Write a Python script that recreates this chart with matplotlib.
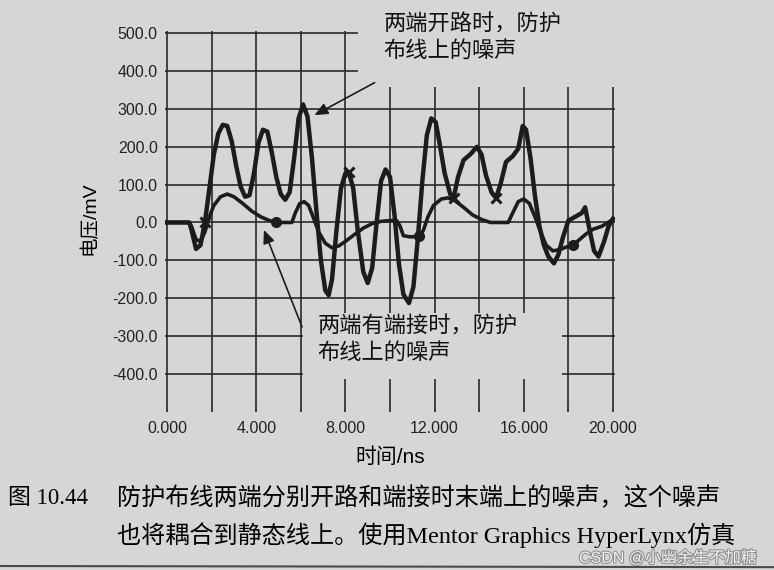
import matplotlib
matplotlib.use("Agg")
import matplotlib.pyplot as plt
from matplotlib.patches import Rectangle
from matplotlib.lines import Line2D
import matplotlib.patheffects as pe

# 两端开路时的噪声 (t/ns, mV)
t_open = [0, 0.5, 1.0, 1.1, 1.3, 1.5, 1.7, 1.9, 2.1, 2.3, 2.5, 2.7, 2.9, 3.1, 3.3, 3.5,
          3.7, 3.9, 4.1, 4.3, 4.5, 4.7, 4.9, 5.1, 5.3, 5.5, 5.7, 5.9, 6.1, 6.3, 6.5,
          6.7, 6.9, 7.1, 7.25, 7.4, 7.6, 7.8, 8.0, 8.15, 8.35, 8.55, 8.8, 9.0, 9.2,
          9.4, 9.6, 9.8, 10.0, 10.2, 10.4, 10.6, 10.85, 11.05, 11.25, 11.45, 11.65,
          11.85, 12.05, 12.25, 12.45, 12.7, 12.85, 13.05, 13.3, 13.6, 13.9, 14.1,
          14.3, 14.55, 14.75, 14.95, 15.2, 15.5, 15.75, 15.95, 16.1, 16.3, 16.5,
          16.7, 16.9, 17.1, 17.35, 17.55, 17.75, 18.0, 18.3, 18.6, 18.75, 18.95,
          19.15, 19.35, 19.6, 19.8, 20.0]
v_open = [0, 0, 0, -20, -70, -60, 0, 90, 180, 235, 258, 255, 215, 150, 95, 68,
          72, 130, 210, 245, 240, 185, 120, 75, 60, 80, 170, 275, 312, 280, 170,
          30, -100, -180, -192, -150, -20, 90, 130, 133, 90, -20, -130, -160, -120,
          0, 110, 140, 120, 20, -110, -190, -213, -170, -40, 110, 230,
          275, 265, 200, 130, 75, 65, 120, 165, 180, 200, 180,
          125, 80, 65, 100, 160, 175, 195, 255, 245, 170, 70,
          -10, -60, -90, -108, -85, -40, 5, 15, 25, 40, -20,
          -75, -90, -50, -10, 10]

# 两端有端接时的噪声
t_term = [0, 1.0, 1.1, 1.3, 1.5, 1.7, 1.9, 2.1, 2.4, 2.7, 3.0, 3.4, 3.8, 4.2, 4.6,
          4.9, 5.3, 5.6, 5.75, 5.95, 6.15, 6.35, 6.55, 6.8, 7.1, 7.4, 7.7, 8.0,
          8.4, 8.8, 9.2, 9.6, 10.0, 10.3, 10.45, 10.6, 10.9, 11.3, 11.5, 11.7,
          11.95, 12.3, 12.6, 12.9, 13.3, 13.7, 14.1, 14.5, 15.0, 15.3, 15.5,
          15.75, 16.0, 16.25, 16.5, 16.75, 17.0, 17.3, 17.6, 17.9, 18.2, 18.5,
          18.8, 19.1, 19.5, 20.0]
v_term = [0, 0, -10, -45, -50, -25, 15, 45, 68, 75, 68, 50, 30, 15, 5,
          0, 0, 0, 25, 50, 55, 45, 15, -25, -55, -67, -62, -50,
          -32, -15, -3, 3, 5, 5, -10, -35, -38, -37, -20, 15,
          45, 62, 65, 58, 40, 20, 8, 0, 0, 0, 25,
          55, 62, 50, 15, -25, -60, -75, -72, -65, -60, -45,
          -30, -18, -10, 8]

x_ticks = [0, 2, 4, 6, 8, 10, 12, 14, 16, 18, 20]
x_labels = ["0.000", "", "4.000", "", "8.000", "", "12.000", "", "16.000", "", "20.000"]
y_ticks = [-400, -300, -200, -100, 0, 100, 200, 300, 400, 500]
y_labels = ["%.1f" % v for v in y_ticks]

bg = "#d6d6d6"
ink = "#1c1c1c"
sans = ["Liberation Sans", "Noto Sans CJK SC"]

fig = plt.figure(figsize=(7.74, 5.70), dpi=100, facecolor=bg)
ax = fig.add_axes([0.2129, 0.291, 0.582, 0.654])
ax.set_facecolor(bg)
ax.set_xlim(-0.1, 20.1)
ax.set_ylim(-480, 505)
for s in ax.spines.values():
    s.set_visible(False)

ax.set_xticks(x_ticks)
ax.set_xticklabels(x_labels, family=sans, fontsize=11.5)
ax.set_yticks(y_ticks)
ax.set_yticklabels(y_labels, family=sans, fontsize=11.5)
ax.tick_params(axis="y", length=0, pad=5, colors="#222222")
ax.tick_params(axis="x", length=6, width=1.2, pad=6, colors="#222222")
ax.grid(True, color="#2a2a2a", linewidth=1.2)
ax.set_axisbelow(True)

# 文字框挡住网格
ax.add_patch(Rectangle((8.57, 357), 12, 200, facecolor=bg, edgecolor="none", zorder=1))
ax.add_patch(Rectangle((6.1, -413), 11.6, 173, facecolor=bg, edgecolor="none", zorder=1))

ax.plot(t_term, v_term, color=ink, lw=2.6, zorder=3,
        marker="o", markersize=7, markevery=[15, 37, 60])
ax.plot(t_open, v_open, color=ink, lw=3.2, zorder=4,
        marker="x", markersize=7, mew=2.2, markevery=[6, 39, 62, 70])

ax.annotate("", xy=(6.5, 280), xytext=(9.42, 373),
            arrowprops=dict(arrowstyle="-|>,head_length=0.8,head_width=0.35",
                            color=ink, lw=1.2), annotation_clip=False, zorder=5)
ax.annotate("", xy=(4.3, -13), xytext=(6.1, -283),
            arrowprops=dict(arrowstyle="-|>,head_length=0.8,head_width=0.35",
                            color=ink, lw=1.2), annotation_clip=False, zorder=5)

fig.text(0.495, 0.935, "两端开路时，防护\n布线上的噪声", family="Noto Sans CJK SC",
         fontsize=16, va="center", ha="left", linespacing=1.2, color="#111111")
fig.text(0.41, 0.405, "两端有端接时，防护\n布线上的噪声", family="Noto Sans CJK SC",
         fontsize=16, va="center", ha="left", linespacing=1.2, color="#111111")

ax.set_ylabel("电压/mV", family=sans, fontsize=14, labelpad=10)
ax.set_xlabel("时间/ns", family=sans, fontsize=15, labelpad=8)

serif = ["Liberation Serif", "Noto Sans CJK SC"]
fig.text(0.010, 0.126, "图 10.44", family=serif, fontsize=16.5, va="center")
fig.text(0.151, 0.126, "防护布线两端分别开路和端接时末端上的噪声，这个噪声",
         family=serif, fontsize=17.4, va="center")
fig.text(0.151, 0.062, "也将耦合到静态线上。使用Mentor Graphics HyperLynx仿真",
         family=serif, fontsize=17.4, va="center")
fig.text(0.978, 0.021, "CSDN @小幽余生不加糖", family=["Liberation Sans", "Noto Sans CJK SC"],
         fontsize=11.5, va="center", ha="right", color="#f4f4f4",
         path_effects=[pe.withStroke(linewidth=1.5, foreground="#8a8a8a")])

# 书页下边缘
fig.add_artist(Line2D([0, 1], [0.007, 0.005], color="#4a4a4a", lw=1.5))

fig.savefig("out.png", dpi=100, facecolor=bg)
